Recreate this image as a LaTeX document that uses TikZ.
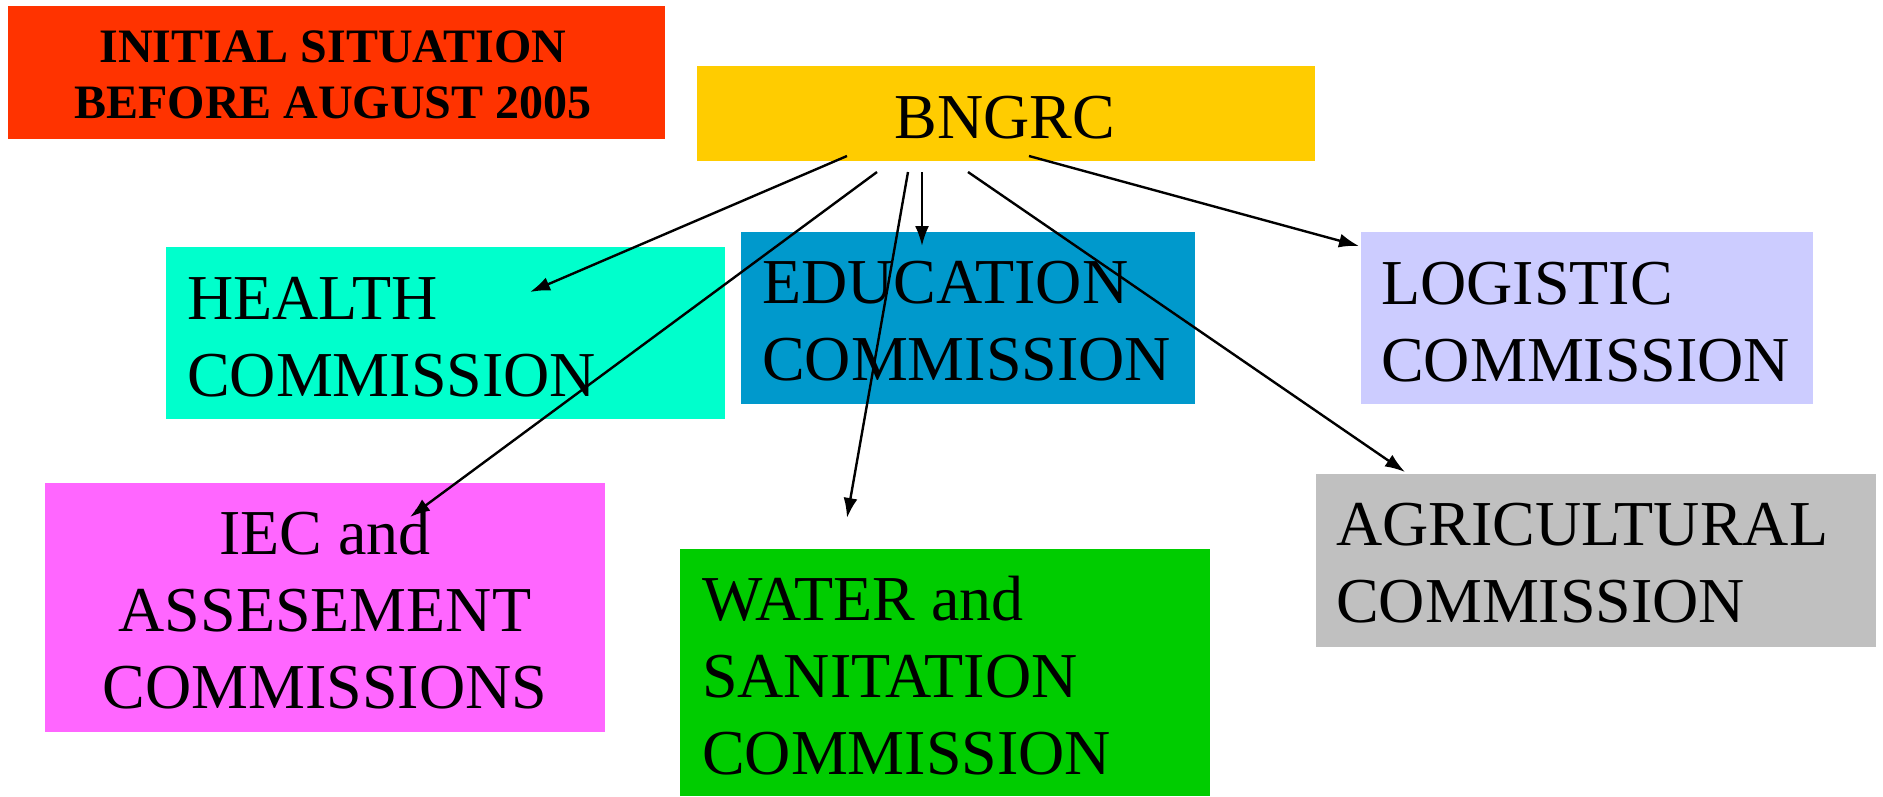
\documentclass[tikz,border=0pt]{standalone}
\usepackage{fontspec}
\setmainfont{Liberation Serif}
\usetikzlibrary{arrows.meta}
\definecolor{cRed}{RGB}{255,51,0}
\definecolor{cYellow}{RGB}{255,204,0}
\definecolor{cCyan}{RGB}{0,255,204}
\definecolor{cBlue}{RGB}{0,153,204}
\definecolor{cLav}{RGB}{204,204,255}
\definecolor{cMag}{RGB}{255,102,255}
\definecolor{cGreen}{RGB}{0,204,0}
\definecolor{cGray}{RGB}{192,192,192}
\tikzset{
  box/.style={rectangle, inner sep=0pt, outer sep=0pt, anchor=north west, draw=none},
  bigtxt/.style={inner sep=0pt, font=\fontsize{64}{77}\selectfont, align=left, anchor=base west},
  ctrtxt/.style={inner sep=0pt, font=\fontsize{64}{77}\selectfont, align=center, anchor=base},
  titletxt/.style={inner sep=0pt, font=\fontsize{48}{56}\selectfont\bfseries, align=center, anchor=base},
  conn/.style={line width=2.4pt, -{Latex[length=20pt,width=14pt]}}
}
\begin{document}
\begin{tikzpicture}[x=1pt,y=-1pt]
\useasboundingbox (0,0) rectangle (1883,796);
\fill[white] (0,0) rectangle (1883,796);
% boxes
\node[box, fill=cRed, minimum width=657pt, minimum height=133pt] (title) at (8,6) {};
\node[box, fill=cYellow, minimum width=618pt, minimum height=95pt] (bngrc) at (697,66) {};
\node[box, fill=cCyan, minimum width=559pt, minimum height=172pt] (health) at (166,247) {};
\node[box, fill=cBlue, minimum width=454pt, minimum height=172pt] (edu) at (741,232) {};
\node[box, fill=cLav, minimum width=452pt, minimum height=172pt] (logi) at (1361,232) {};
\node[box, fill=cMag, minimum width=560pt, minimum height=249pt] (iec) at (45,483) {};
\node[box, fill=cGreen, minimum width=530pt, minimum height=247pt] (water) at (680,549) {};
\node[box, fill=cGray, minimum width=560pt, minimum height=173pt] (agri) at (1316,474) {};
% texts (anchored at the baseline of their last line)
\node[titletxt] (titleT) at (333,118) {INITIAL SITUATION\\BEFORE AUGUST 2005};
\node[ctrtxt] (bngrcT) at (1005,138) {BNGRC};
\node[bigtxt] (healthT) at (187,396) {HEALTH\\COMMISSION};
\node[bigtxt] (eduT) at (762,380) {EDUCATION\\COMMISSION};
\node[bigtxt] (logiT) at (1381,381) {LOGISTIC\\COMMISSION};
\node[ctrtxt] (iecT) at (325,708) {IEC and\\ASSESEMENT\\COMMISSIONS};
\node[bigtxt] (waterT) at (702,774) {WATER and\\SANITATION\\COMMISSION};
\node[bigtxt] (agriT) at (1336,622) {AGRICULTURAL\\COMMISSION};
% connector end points
\coordinate (sH) at (847,156);
\coordinate (sI) at (877,172);
\coordinate (sW) at (908,172);
\coordinate (sE) at (922,172);
\coordinate (sA) at (968,172);
\coordinate (sL) at (1029,156);
\coordinate (tH) at (530,292);
\coordinate (tI) at (410,517);
\coordinate (tW) at (847,518);
\coordinate (tE) at (922,246);
\coordinate (tA) at (1405,472);
\coordinate (tL) at (1359,246);
% connectors
\draw[conn] (sH) -- (tH);
\draw[conn] (sI) -- (tI);
\draw[conn] (sW) -- (tW);
\draw[conn] (sE) -- (tE);
\draw[conn] (sA) -- (tA);
\draw[conn] (sL) -- (tL);
\end{tikzpicture}
\end{document}
